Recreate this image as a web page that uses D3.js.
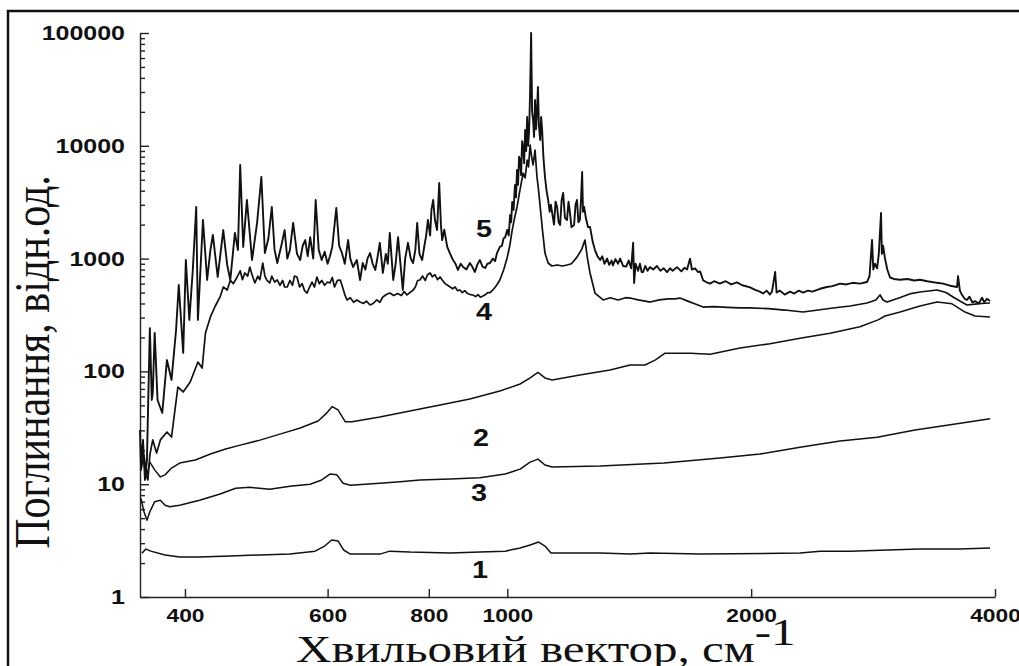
<!DOCTYPE html>
<html>
<head>
<meta charset="utf-8">
<script src="https://cdn.jsdelivr.net/npm/d3@7"></script>
<style>
  body { margin: 0; background: #fff; }
  svg { display: block; }
</style>
</head>
<body>
<div id="chart"></div>
<script>
// wavenumber (cm-1), absorbance (rel. units)
const curve1 = [[354,2.45],[358,2.66],[363,2.55],[378,2.36],[394,2.26],[417,2.26],[455,2.31],[495,2.36],[539,2.4],[579,2.55],[595,2.83],[607,3.2],[618,3.14],[628,2.61],[640,2.4],[696,2.4],[716,2.55],[758,2.5],[850,2.45],[925,2.5],[994,2.55],[1037,2.72],[1067,2.89],[1093,3.07],[1113,2.83],[1132,2.45],[1302,2.45],[1418,2.4],[1501,2.45],[1730,2.4],[2298,2.45],[2433,2.55],[2650,2.55],[2885,2.6],[3232,2.66],[3620,2.66],[3944,2.72]];

const curve2 = [[353,13.3],[356,18.1],[359,12.1],[362,15.7],[367,13.4],[373,11.6],[378,12.1],[385,13.9],[394,15.4],[412,16.4],[430,18.5],[449,20.5],[468,22.2],[495,24.6],[524,27.8],[555,31.5],[584,36.3],[597,42.0],[608,48.8],[618,45.5],[631,35.7],[643,35.7],[696,39.4],[758,44.6],[826,50.4],[899,56.9],[979,67],[1037,77.3],[1067,87.5],[1091,97.9],[1113,87.5],[1136,83.9],[1229,92.8],[1339,103],[1418,114],[1479,114],[1522,126],[1566,145],[1681,145],[1780,142],[1938,161],[2110,176],[2298,197],[2503,218],[2725,249],[2869,286],[2926,310],[3054,336],[3232,380],[3393,412],[3540,397],[3673,336],[3779,310],[3944,304]];

const curve3 = [[353,7.5],[356,5.7],[359,4.8],[362,5.7],[367,7.0],[373,7.2],[378,6.5],[383,6.3],[394,6.5],[417,7.2],[442,8.2],[462,9.2],[481,9.4],[509,9.0],[539,9.6],[571,10.0],[590,10.9],[604,12.3],[616,12.1],[627,10.2],[640,9.8],[696,10.2],[737,10.5],[780,10.9],[850,11.1],[925,11.4],[994,12.3],[1037,13.6],[1067,15.7],[1091,16.7],[1113,14.8],[1136,14.2],[1302,14.5],[1561,15.4],[1831,17.1],[2051,18.5],[2298,21.3],[2575,24.2],[2861,26.1],[3187,30.2],[3573,34.2],[3944,38.0]];

const curve4 = [[353,22.3],[355,18.2],[358,12.1],[360,10.9],[362,18.2],[365,24.7],[369,18.9],[373,24.7],[380,29.0],[385,26.2],[392,72.7],[398,65.7],[406,80.5],[415,121],[420,107],[424,219],[430,304],[436,380],[442,457],[446,560],[451,527],[455,640],[459,600],[464,687],[468,780],[471,650],[474,746],[478,700],[481,842],[484,720],[488,608],[492,700],[495,650],[499,914],[502,700],[505,640],[509,608],[512,700],[516,620],[520,646],[524,580],[528,640],[531,560],[535,560],[539,640],[543,580],[546,700],[550,687],[554,560],[558,600],[562,520],[566,495],[570,560],[574,620],[578,560],[582,687],[586,600],[590,640],[595,580],[600,620],[604,608],[608,680],[612,560],[617,640],[622,646],[626,560],[630,480],[634,430],[640,450],[646,410],[652,430],[658,412],[664,400],[670,420],[677,388],[683,400],[690,430],[696,410],[702,457],[709,480],[716,495],[724,470],[732,490],[740,470],[746,510],[752,476],[758,500],[764,520],[770,560],[775,640],[780,646],[786,700],[792,640],[797,720],[803,746],[808,690],[814,720],[820,650],[826,687],[832,640],[838,600],[844,580],[850,560],[856,540],[862,560],[868,520],[874,527],[880,500],[886,520],[893,490],[900,480],[907,476],[914,460],[920,480],[926,455],[933,466],[940,480],[946,500],[952,500],[960,527],[970,580],[979,646],[990,800],[1000,1030],[1007,1300],[1014,1790],[1021,2300],[1028,2870],[1035,3800],[1040,4600],[1046,5740],[1052,5200],[1058,7480],[1062,6500],[1067,10160],[1071,8200],[1076,6760],[1082,9180],[1088,5290],[1093,4000],[1098,2870],[1105,1800],[1113,1120],[1123,914],[1135,860],[1152,878],[1170,860],[1185,878],[1200,900],[1219,1030],[1235,1200],[1247,1460],[1256,1000],[1265,746],[1283,495],[1313,430],[1340,450],[1370,430],[1400,450],[1418,447],[1450,430],[1480,420],[1501,412],[1540,430],[1580,440],[1610,440],[1634,447],[1670,420],[1700,400],[1745,372],[1800,375],[1870,370],[1940,365],[1994,365],[2100,360],[2200,350],[2318,336],[2420,350],[2524,365],[2650,380],[2780,404],[2850,430],[2885,476],[2910,430],[2943,412],[3050,450],[3150,490],[3232,506],[3393,527],[3480,500],[3550,457],[3620,420],[3694,388],[3780,395],[3850,400],[3944,404]];

const curve5 = [[352,30.2],[353,13.4],[355,24.7],[357,10.9],[359,16.4],[362,242],[364,55.8],[365,64.4],[367,219],[370,55.8],[375,42.8],[380,126],[385,84],[390,233],[393,583],[398,146],[401,972],[405,286],[409,793],[413,2870],[415,286],[421,2200],[426,646],[430,1190],[433,1620],[439,687],[446,1790],[451,878],[455,646],[461,1690],[465,1190],[468,6760],[472,1270],[477,3310],[484,972],[491,2070],[497,5290],[502,1120],[507,1500],[512,2870],[516,1200],[520,914],[526,1300],[531,1790],[535,1000],[539,1190],[544,2070],[550,1100],[555,972],[559,1300],[563,1460],[567,1050],[571,1550],[576,1000],[580,3310],[585,1200],[590,972],[595,1150],[600,900],[604,1050],[608,1270],[615,2810],[620,1300],[625,1120],[630,900],[636,1460],[640,1000],[645,842],[652,972],[658,646],[663,914],[668,800],[672,1000],[677,1120],[682,900],[687,793],[691,1000],[696,1380],[702,746],[708,1100],[712,900],[716,1690],[723,646],[728,900],[733,1550],[738,900],[743,527],[748,1000],[754,1380],[760,1000],[765,914],[770,1200],[774,2070],[779,1100],[785,972],[790,1300],[794,1600],[798,2200],[803,1600],[806,2700],[810,3310],[814,2200],[819,1790],[824,4680],[828,2000],[831,1460],[836,1800],[843,1270],[850,1100],[857,972],[863,900],[869,793],[876,900],[882,842],[890,800],[899,914],[905,850],[912,761],[918,880],[925,972],[932,850],[939,825],[945,900],[952,914],[960,1000],[966,950],[971,1120],[979,1270],[985,1300],[989,1500],[994,1550],[1000,1800],[1004,1600],[1008,2435],[1011,2100],[1014,3180],[1018,2700],[1022,4490],[1025,3500],[1028,6100],[1031,4500],[1034,8000],[1037,7480],[1040,5500],[1043,11000],[1046,9760],[1049,7000],[1052,13800],[1055,9000],[1058,18000],[1061,10000],[1064,13800],[1067,30000],[1070,100000],[1073,20000],[1076,16900],[1079,12000],[1082,25470],[1085,14000],[1088,20000],[1091,33200],[1094,15000],[1098,11260],[1101,18000],[1104,13800],[1108,8000],[1113,5290],[1118,4000],[1123,3310],[1128,2600],[1132,3000],[1136,2540],[1142,2000],[1147,3200],[1152,2870],[1157,2100],[1162,1986],[1167,3300],[1172,3820],[1178,2300],[1185,2200],[1190,3200],[1195,2540],[1200,1900],[1209,1986],[1214,3000],[1219,3310],[1224,2100],[1229,2200],[1233,3300],[1237,5860],[1240,2600],[1244,2870],[1250,2300],[1258,1900],[1265,1910],[1275,1400],[1283,1190],[1292,1050],[1302,972],[1310,1050],[1318,900],[1328,1000],[1336,880],[1345,960],[1350,870],[1360,990],[1370,900],[1378,1000],[1390,860],[1402,850],[1412,960],[1422,820],[1430,1380],[1434,608],[1440,900],[1450,780],[1458,900],[1465,760],[1471,760],[1480,860],[1490,780],[1500,840],[1514,800],[1530,860],[1545,780],[1560,820],[1575,760],[1588,820],[1600,780],[1620,840],[1640,770],[1655,830],[1667,800],[1681,1000],[1690,800],[1705,820],[1720,760],[1730,770],[1745,640],[1760,620],[1780,600],[1800,630],[1830,600],[1860,630],[1890,590],[1921,615],[1950,580],[1994,555],[2020,530],[2050,510],[2069,490],[2090,520],[2110,480],[2122,510],[2141,760],[2150,500],[2170,520],[2200,480],[2234,510],[2260,490],[2290,520],[2318,500],[2350,520],[2380,510],[2433,540],[2480,560],[2520,570],[2575,600],[2620,590],[2670,610],[2725,600],[2780,620],[2800,700],[2820,1460],[2830,800],[2844,900],[2861,820],[2875,1100],[2893,2540],[2900,1100],[2910,1300],[2926,1000],[2945,800],[2968,680],[3000,660],[3054,650],[3120,660],[3180,640],[3232,650],[3300,630],[3393,610],[3450,600],[3520,575],[3591,560],[3601,700],[3620,520],[3640,480],[3670,440],[3694,430],[3720,460],[3750,410],[3779,420],[3820,400],[3855,450],[3880,410],[3910,440],[3944,420]];

const curves = [curve1, curve2, curve3, curve4, curve5];

// curve numbers and where they sit (wavenumber, value)
const curveLabels = ["1", "2", "3", "4", "5"];
const labelPos = [[925,1.77],[928,26.2],[923,8.53],[936,343],[936,1870]];

const xTicks = [400, 600, 800, 1000, 2000, 4000];
const yTicks = [1, 10, 100, 1000, 10000, 100000];
const yMinor = [2,3,4,5,6,7,8,9,20,30,40,50,60,70,80,90,200,300,400,500,600,700,800,900,2000,3000,4000,5000,6000,7000,8000,9000,20000,30000,40000,50000,60000,70000,80000,90000];

const width = 1019;
const height = 666;

const svg = d3.select("#chart")
  .append("svg")
  .attr("width", width)
  .attr("height", height);

svg.append("rect").attr("width", width).attr("height", height).attr("fill", "#fff");

// outer frame (only top and left edges show)
svg.append("path")
  .attr("d", `M8,${height} V11 H${width}`)
  .attr("fill", "none")
  .attr("stroke", "#111")
  .attr("stroke-width", 2.5);

const x = d3.scaleLog().domain([352, 4000]).range([140, 995]);
const y = d3.scaleLog().domain([1, 100000]).range([597, 33]);

// x axis
const gx = svg.append("g")
  .attr("transform", `translate(0,${ y(1) })`)
  .call(d3.axisBottom(x)
    .tickValues(xTicks)
    .tickFormat(d3.format("d"))
    .tickSizeInner(-8)
    .tickSizeOuter(0)
    .tickPadding(12));

// y axis, majors
const gy = svg.append("g")
  .attr("transform", `translate(${ x(352) },0)`)
  .call(d3.axisLeft(y)
    .tickValues(yTicks)
    .tickFormat(d3.format("d"))
    .tickSizeInner(-9)
    .tickSizeOuter(0)
    .tickPadding(12));

// y axis, minors
svg.append("g")
  .attr("transform", `translate(${ x(352) },0)`)
  .call(d3.axisLeft(y)
    .tickValues(yMinor)
    .tickFormat("")
    .tickSizeInner(-5)
    .tickSizeOuter(0))
  .call((g) => g.select(".domain").remove());

svg.selectAll(".domain, .tick line")
  .attr("stroke", "#222")
  .attr("stroke-width", 1.4);

const tickFont = (g, size, sx) => g.selectAll(".tick text")
  .attr("font-family", "'Liberation Sans', Arial, sans-serif")
  .attr("font-weight", "bold")
  .attr("font-size", size)
  .attr("fill", "#111")
  .attr("transform", `scale(${ sx },1)`);

tickFont(gx, 19, 1.2);
tickFont(gy, 20, 1.25);

// spectra
const line = d3.line()
  .x((d) => x(d[0]))
  .y((d) => y(d[1]));

svg.append("g")
  .selectAll("path")
  .data(curves)
  .join("path")
  .attr("d", line)
  .attr("fill", "none")
  .attr("stroke", "#111")
  .attr("stroke-width", (d, i) => (i === 4 ? 1.9 : i === 3 ? 1.7 : 1.5))
  .attr("stroke-linejoin", "round");

// curve numbers
svg.append("g")
  .selectAll("text")
  .data(curveLabels)
  .join("text")
  .attr("transform", (d, i) => `translate(${ x(labelPos[i][0]) },${ y(labelPos[i][1]) }) scale(1.2,1)`)
  .attr("text-anchor", "middle")
  .attr("dy", "0.36em")
  .attr("font-family", "'Liberation Sans', Arial, sans-serif")
  .attr("font-weight", "bold")
  .attr("font-size", 24)
  .attr("fill", "#111")
  .text((d) => d);

// axis titles
svg.append("text")
  .attr("transform", `translate(49,362) scale(1.2,1) rotate(-90)`)
  .attr("text-anchor", "middle")
  .attr("font-family", "'Liberation Serif', 'Times New Roman', serif")
  .attr("font-size", 42)
  .attr("fill", "#111")
  .text("Поглинання, відн.од.");

const xt = svg.append("text")
  .attr("transform", `translate(296,662) scale(1.29,1)`)
  .attr("font-family", "'Liberation Serif', 'Times New Roman', serif")
  .attr("font-size", 38)
  .attr("fill", "#111");
xt.append("tspan").text("Хвильовий вектор, см");
xt.append("tspan").attr("dy", -17).text("-1");
</script>
</body>
</html>
